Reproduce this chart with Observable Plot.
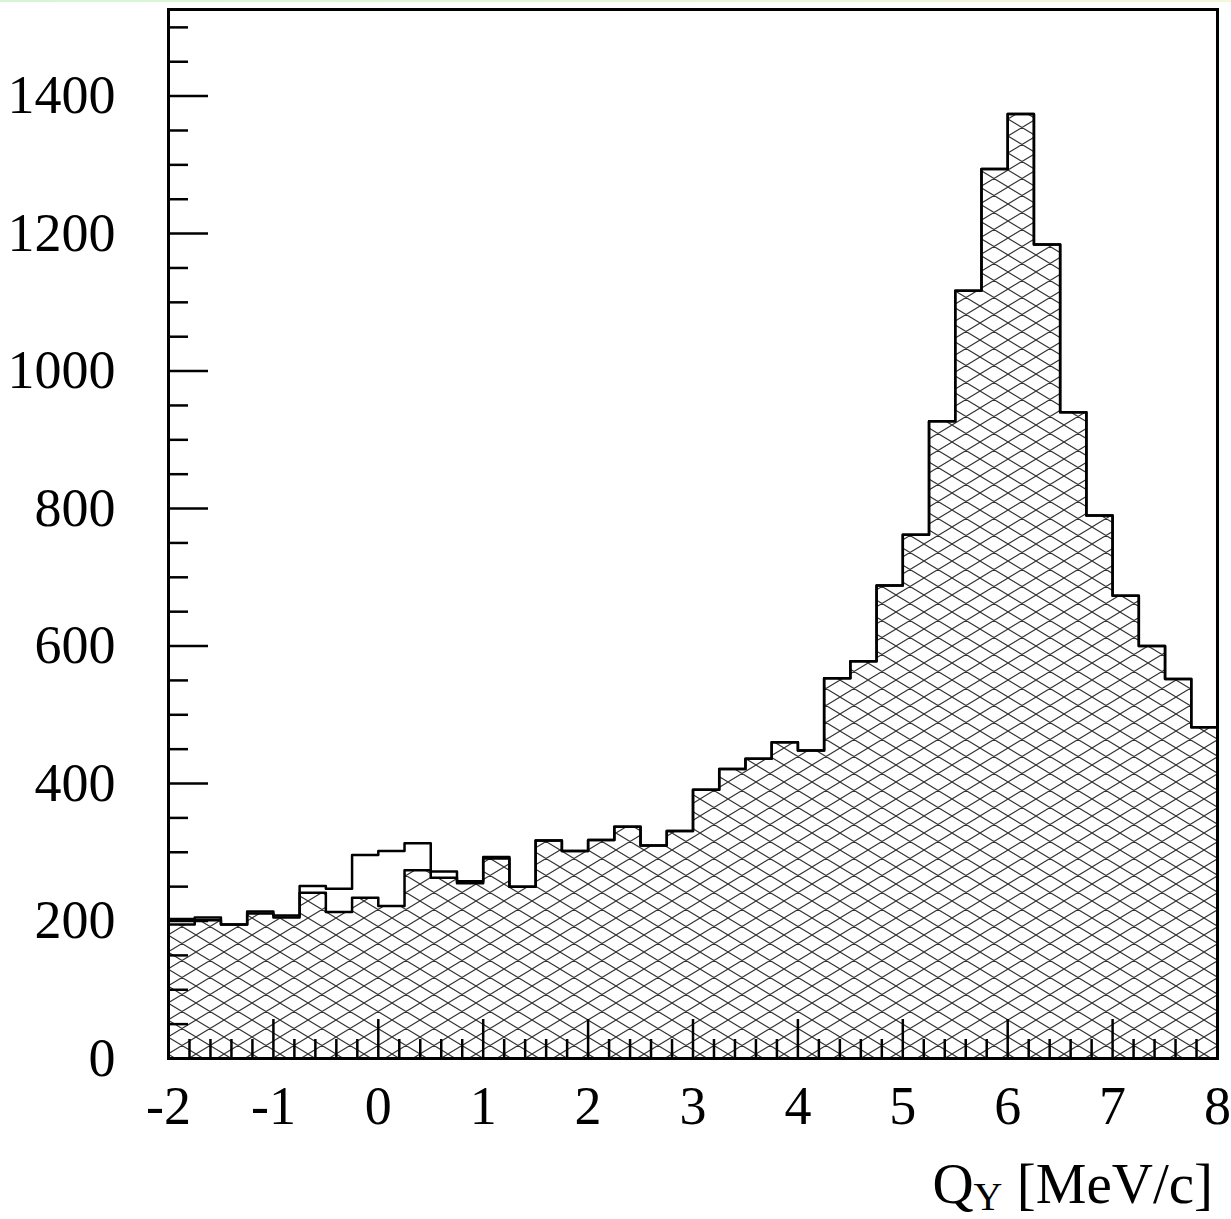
<!DOCTYPE html>
<html>
<head>
<meta charset="utf-8">
<script src="https://cdn.jsdelivr.net/npm/d3@7"></script>
<script src="https://cdn.jsdelivr.net/npm/@observablehq/plot@0.6"></script>
<style>
  html, body { margin: 0; padding: 0; background: #fff; }
  #chart { position: absolute; left: 0; top: 0; }
  #strip { position: absolute; left: 0; top: 0; width: 1231px; height: 2px;
           background: linear-gradient(to right, #d4f6d4, #f5f8d8); }
</style>
</head>
<body>
<div id="chart"></div>
<div id="strip"></div>
<script>
// ---- data (histogram, 40 bins of 0.25 MeV/c from -2 to 8) ----
const xMin = -2;
const binWidth = 0.25;

// hatched histogram
const hatched = [
  195, 201, 195, 211, 205, 241, 213, 234, 222, 274,
  263, 255, 291, 250, 317, 302, 318, 337, 310, 331,
  391, 421, 436, 460, 448, 553, 578, 688, 762, 927,
  1117, 1294, 1374, 1184, 940, 790, 673, 600, 552, 482
];

// open (outline-only) histogram
const outline = [
  203, 205, 195, 214, 208, 251, 247, 296, 302, 313,
  272, 258, 293, 250, 317, 302, 318, 337, 310, 331,
  391, 421, 436, 460, 448, 553, 578, 688, 762, 927,
  1117, 1294, 1374, 1184, 940, 790, 673, 600, 552, 482
];

const xMajorTicks = [-2, -1, 0, 1, 2, 3, 4, 5, 6, 7, 8];
const xTickLabels = ["-2", "-1", "0", "1", "2", "3", "4", "5", "6", "7", "8"];
const yMajorTicks = [0, 200, 400, 600, 800, 1000, 1200, 1400];
const yTickLabels = ["0", "200", "400", "600", "800", "1000", "1200", "1400"];
const xDomain = [-2, 8];
const yDomain = [0, 1526];

// minor ticks: every 0.2 on x, every 50 on y
const xMinorTicks = d3.range(-2, 8.0001, 0.2).map(v => +v.toFixed(4))
  .filter(v => Math.abs(v - Math.round(v)) > 1e-6);
const yMinorTicks = d3.range(0, 1526, 50).filter(v => v % 200 !== 0);

function stepPoints(vals) {
  const pts = vals.map((v, i) => ({x: xMin + i * binWidth, y: v}));
  pts.push({x: xMin + vals.length * binWidth, y: vals[vals.length - 1]});
  return pts;
}
const hPts = stepPoints(hatched);
const oPts = stepPoints(outline);

const FONT = "'Liberation Serif', 'Times New Roman', serif";

const plot = Plot.plot({
  width: 1231,
  height: 1219,
  marginLeft: 168,
  marginRight: 14,
  marginTop: 9,
  marginBottom: 161,
  x: {domain: xDomain},
  y: {domain: yDomain},
  style: {fontFamily: FONT, fontSize: "54px", color: "black", background: "white"},
  marks: [
    Plot.areaY(hPts, {x: "x", y: "y", curve: "step-after", fill: "url(#hatch)"}),
    Plot.lineY(hPts, {x: "x", y: "y", curve: "step-after", stroke: "black", strokeWidth: 2.5}),
    Plot.lineY(oPts, {x: "x", y: "y", curve: "step-after", stroke: "black", strokeWidth: 2.5}),
    // y axis
    Plot.axisY({ticks: yMajorTicks, tickSize: 0, tickPadding: 53, label: null,
                tickFormat: d => yTickLabels[yMajorTicks.indexOf(d)], fontSize: 54, fill: "black"}),
    Plot.axisY({ticks: yMajorTicks, tickSize: -40, fill: "none", label: null, strokeWidth: 2.5, stroke: "black"}),
    Plot.axisY({ticks: yMinorTicks, tickSize: -20, fill: "none", label: null, strokeWidth: 2.5, stroke: "black"}),
    // x axis
    Plot.axisX({ticks: xMajorTicks, tickSize: 0, tickPadding: 27, label: null,
                tickFormat: d => xTickLabels[xMajorTicks.indexOf(d)], fontSize: 54, fill: "black"}),
    Plot.axisX({ticks: xMajorTicks, tickSize: -39, fill: "none", label: null, strokeWidth: 2.5, stroke: "black"}),
    Plot.axisX({ticks: xMinorTicks, tickSize: -19, fill: "none", label: null, strokeWidth: 2.5, stroke: "black"}),
    Plot.frame({stroke: "black", strokeWidth: 3})
  ]
});

document.getElementById("chart").appendChild(plot);

// hatch pattern definition
const svg = d3.select(plot);
const W = 28, H = 17;
const defs = svg.insert("defs", ":first-child");
const pat = defs.append("pattern")
  .attr("id", "hatch")
  .attr("patternUnits", "userSpaceOnUse")
  .attr("width", W).attr("height", H);
let dPath = "";
for (let k = -1; k <= 2; k++) {
  dPath += `M${k * W - W},${-H}L${k * W + 2 * W},${2 * H}`;
  dPath += `M${k * W - W},${2 * H}L${k * W + 2 * W},${-H}`;
}
pat.append("path").attr("d", dPath).attr("stroke", "#333").attr("stroke-width", 1.1).attr("fill", "none");

// x-axis title with subscript
const title = svg.append("text")
  .attr("x", 1213).attr("y", 1203)
  .attr("text-anchor", "end")
  .attr("font-family", FONT)
  .attr("font-size", 57)
  .attr("fill", "black");
title.append("tspan").text("Q");
title.append("tspan").attr("font-size", 40).attr("dy", 7).text("Y");
title.append("tspan").attr("dy", -7).text(" [MeV/c]");
</script>
</body>
</html>
